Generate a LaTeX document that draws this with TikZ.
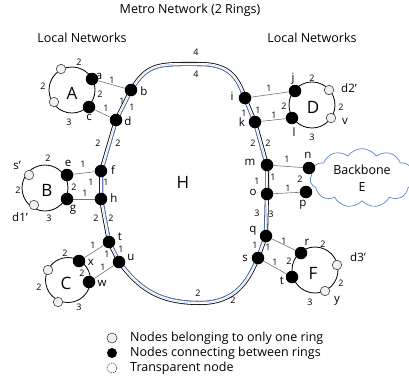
\documentclass[tikz,border=0pt]{standalone}
\usepackage{fontspec}
\setmainfont{Open Sans}
\usetikzlibrary{shapes.symbols,backgrounds}
\definecolor{ringblue}{HTML}{4A72C2}
\definecolor{cloudblue}{HTML}{5B86CF}

% closed loop of the metro network, through the node centres
\newcommand\metroloop{(b.center) -- (d.center) -- (f.center) -- (h.center) -- (t.center) -- (u.center)
  .. controls (140,290) and (160,303) .. (200,303)
  .. controls (235,303) and (248,282) .. (s.center)
  -- (q.center) -- (o.center) -- (m.center) -- (k.center) -- (i.center)
  .. controls (238,78) and (230,64) .. (200,64)
  .. controls (160,64) and (148,62) .. (b.center) -- cycle}

\begin{document}
\begin{tikzpicture}[x=1pt,y=-1pt,
  hub/.style={circle,fill=black,minimum size=12.5pt,inner sep=0pt},
  leaf/.style={circle,draw=black!75,fill=black!6,line width=0.6pt,minimum size=9.5pt,inner sep=0pt},
  ringline/.style={line width=0.8pt},
  link/.style={draw=black!55,line width=0.6pt},
  lbl/.style={font=\fontsize{11.5}{13}\selectfont,inner sep=0pt},
  num/.style={font=\fontsize{9}{10}\selectfont,inner sep=0pt},
  big/.style={font=\fontsize{17}{20}\selectfont,inner sep=0pt},
  head/.style={font=\fontsize{12.5}{14}\selectfont,inner sep=0pt}]

\useasboundingbox (0,0) rectangle (409,381);
\clip (0,0) rectangle (409,381);

% headings
\node[head] (title) at (190,10) {Metro Network (2 Rings)};
\node[head] (locL) at (82,38) {Local Networks};
\node[head] (locR) at (312,38) {Local Networks};

% backbone cloud
\node[cloud, draw=cloudblue, line width=0.7pt, fill=white, cloud puffs=11, cloud puff arc=110,
      minimum width=104pt, minimum height=55pt, aspect=2, align=center,
      font=\fontsize{12.5}{17}\selectfont] (E) at (362,178) {Backbone\\E};

% nodes connecting between rings
\node[hub] (a) at (92,79) {};
\node[hub] (b) at (131,90) {};
\node[hub] (c) at (89,107) {};
\node[hub] (d) at (116,120) {};
\node[hub] (e) at (67,175) {};
\node[hub] (f) at (101,171) {};
\node[hub] (g) at (67,199) {};
\node[hub] (h) at (101,199) {};
\node[hub] (t) at (109,242) {};
\node[hub] (u) at (119,262) {};
\node[hub] (x) at (79,261) {};
\node[hub] (w) at (89,282) {};
\node[hub] (i) at (245,98) {};
\node[hub] (j) at (295,91) {};
\node[hub] (k) at (255,122) {};
\node[hub] (l) at (292,118) {};
\node[hub] (m) at (267,165) {};
\node[hub] (n) at (309,168) {};
\node[hub] (o) at (267,194) {};
\node[hub] (p) at (306,192) {};
\node[hub] (q) at (266,236) {};
\node[hub] (s) at (258,258) {};
\node[hub] (r) at (301,253) {};
\node[hub] (tF) at (292,277) {};

% nodes belonging to only one ring
\node[leaf] (A1) at (61,69) {};
\node[leaf] (A2) at (54,102) {};
\node[leaf] (sB) at (29,175) {};
\node[leaf] (dB) at (34,205) {};
\node[leaf] (C1) at (48,270) {};
\node[leaf] (C2) at (58,302) {};
\node[leaf] (dD) at (329,90) {};
\node[leaf] (v) at (331,118) {};
\node[leaf] (dF) at (337,265) {};
\node[leaf] (y) at (325,291) {};

% ring centres
\coordinate (RA) at (72,90);
\coordinate (RB) at (45,188);
\coordinate (RC) at (68,280);
\coordinate (RD) at (312,105);
\coordinate (RF) at (315,270);

\begin{pgfonlayer}{background}
  % metro rings: black outer ring, blue inner ring
  \draw[line width=4pt, line join=round] \metroloop;
  \draw[white, line width=2.4pt, line join=round] \metroloop;
  \begin{scope}
    \clip \metroloop;
    \draw[ringblue, line width=4pt, line join=round] \metroloop;
    \draw[white, line width=2.4pt, line join=round] \metroloop;
  \end{scope}
  % local rings
  \draw[ringline] (RA) circle[radius=23pt];
  \draw[ringline] (RB) circle[radius=23pt];
  \draw[ringline] (RC) circle[radius=22.5pt];
  \draw[ringline] (RD) circle[radius=23pt];
  \draw[ringline] (RF) circle[radius=23pt];
  % links between local and metro rings
  \draw[link] (a) -- (b);
  \draw[link] (c) -- (d);
  \draw[link] (e) -- (f);
  \draw[link] (g) -- (h);
  \draw[link] (x) -- (t);
  \draw[link] (w) -- (u);
  \draw[link] (i) -- (j);
  \draw[link] (k) -- (l);
  \draw[link] (m) -- (n);
  \draw[link] (o) -- (p);
  \draw[link] (q) -- (r);
  \draw[link] (s) -- (tF);
\end{pgfonlayer}

% ring names
\node[big] (nA) at (72,93) {A};
\node[big] (nB) at (47,190) {B};
\node[big] (nC) at (66,283) {C};
\node[big] (nD) at (313,107) {D};
\node[big] (nF) at (313,273) {F};
\node[big] (nH) at (183,182) {H};

% node names
\foreach \px/\py/\txt [count=\k] in {
  99/76/a, 144/91/b, 89/117/c, 128/121/d, 68/163/e, 113/170/f, 73/210/g, 114/198/h,
  120/237/t, 131/257/u, 91/262/x, 102/283/w, 232/96/i, 293/79/j, 242/122/k, 294/132/l,
  250/162/m, 308/155/n, 253/192/o, 303/205/p, 253/231/q, 245/258/s, 307/242/r, 282/281/t,
  17/165/s’, 20/217/d1’, 349/88/d2’, 345/121/v, 358/257/d3’, 337/301/y}
  \node[lbl] (nm\k) at (\px,\py) {\txt};

% link weights
\foreach \px/\py/\txt [count=\k] in {
  79/62/2, 43/86/2, 69/122/3, 100/94/2, 112/80/1, 106/108/1, 122/101/1, 132/107/1,
  98/143/2, 118/143/2, 48/158/2, 18/190/2, 49/218/3, 74/187/2, 83/164/1, 85/193/1,
  91/182/1, 106/182/1, 96/218/2, 111/218/2, 107/254/1, 121/249/1,
  65/253/2, 39/287/2, 79/307/3, 82/273/2, 93/245/1, 103/267/1,
  196/52/4, 196/74/4, 198/293/2, 233/300/2,
  244/113/1, 258/110/1, 253/143/2, 268/143/2, 257/181/1, 273/177/1,
  257/213/3, 271/214/3, 255/245/1, 268/247/1,
  312/78/2, 341/107/2, 312/137/3, 284/106/2, 269/88/1, 274/115/1,
  323/244/2, 341/283/2, 310/302/3, 289/261/2, 284/241/1, 275/262/1,
  287/159/1, 288/188/1, 300/179/2}
  \node[num] (wt\k) at (\px,\py) {\txt};

% legend
\node[leaf, minimum size=10pt] (lg1) at (112,338) {};
\node[hub, minimum size=10pt] (lg2) at (112,353) {};
\node[circle, draw=black!75, fill=white, line width=0.6pt, dash pattern=on 1.4pt off 1pt,
      minimum size=10pt, inner sep=0pt] (lg3) at (112,368) {};
\node[head, anchor=west] (lt1) at (130,338) {Nodes belonging to only one ring};
\node[head, anchor=west] (lt2) at (130,353) {Nodes connecting between rings};
\node[head, anchor=west] (lt3) at (130,368) {Transparent node};
\end{tikzpicture}
\end{document}
